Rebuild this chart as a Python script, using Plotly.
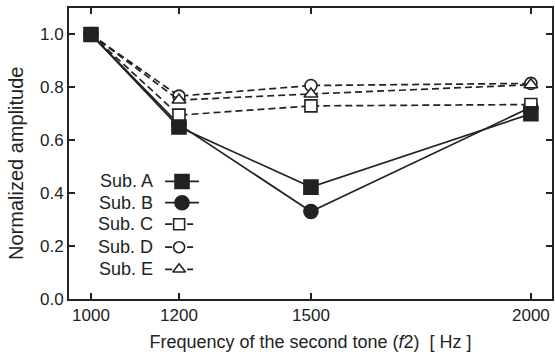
import plotly.graph_objects as go

freq = [1000, 1200, 1500, 2000]
sub_a = [1.0, 0.65, 0.423, 0.70]
sub_b = [1.0, 0.66, 0.331, 0.725]
sub_c = [1.0, 0.695, 0.73, 0.735]
sub_d = [1.0, 0.767, 0.807, 0.815]
sub_e = [1.0, 0.752, 0.775, 0.81]
names = ["Sub. A", "Sub. B", "Sub. C", "Sub. D", "Sub. E"]
x_ticks = [1000, 1200, 1500, 2000]
y_ticks = [0.0, 0.2, 0.4, 0.6, 0.8, 1.0]

series = [sub_a, sub_b, sub_c, sub_d, sub_e]
styles = [
    dict(symbol="square", size=14, fill="#222", dash="solid"),
    dict(symbol="circle", size=14, fill="#222", dash="solid"),
    dict(symbol="square", size=12, fill="white", dash="7px,4px"),
    dict(symbol="circle", size=12, fill="white", dash="7px,4px"),
    dict(symbol="triangle-up", size=12, fill="white", dash="7px,4px"),
]

FONT = "Liberation Sans, Arial, Helvetica, sans-serif"
INK = "#222"

fig = go.Figure()
draw_order = [1, 2, 3, 4, 0]  # Sub. A drawn last (on top at 1000 Hz)
for k in draw_order:
    vals, st, nm = series[k], styles[k], names[k]
    fig.add_trace(go.Scatter(
        x=freq, y=vals, mode="lines+markers", name=nm, showlegend=False,
        line=dict(color=INK, width=1.7, dash=st["dash"]),
        marker=dict(symbol=st["symbol"], size=st["size"], color=st["fill"],
                    line=dict(color=INK, width=1.6)),
    ))

# custom legend (text left, sample right) on an overlay axis in paper units
row_y = [0.404, 0.331, 0.257, 0.178, 0.102]
for i, (st, nm) in enumerate(zip(styles, names)):
    solid = st["dash"] == "solid"
    x0, x1, xm = (0.199, 0.269, 0.234) if solid else (0.199, 0.257, 0.228)
    fig.add_trace(go.Scatter(
        x=[x0, x1], y=[row_y[i], row_y[i]], mode="lines", xaxis="x2", yaxis="y2",
        showlegend=False, hoverinfo="skip",
        line=dict(color=INK, width=1.7, dash=st["dash"])))
    fig.add_trace(go.Scatter(
        x=[xm], y=[row_y[i]], mode="markers", xaxis="x2", yaxis="y2",
        showlegend=False, hoverinfo="skip",
        marker=dict(symbol=st["symbol"], size=st["size"] if solid else 11,
                    color=st["fill"], line=dict(color=INK, width=1.6))))
    fig.add_annotation(x=0.178, y=row_y[i], xref="paper", yref="paper",
                       text=nm, showarrow=False, xanchor="right", yanchor="middle",
                       font=dict(family=FONT, size=18, color=INK))

fig.add_annotation(x=-0.11, y=0.467, xref="paper", yref="paper",
                   text="Normalized amplitude", textangle=-90, showarrow=False,
                   xanchor="center", yanchor="middle",
                   font=dict(family=FONT, size=20, color=INK))

fig.update_layout(
    width=555, height=354,
    margin=dict(l=69, r=3, t=8, b=55),
    paper_bgcolor="white", plot_bgcolor="white",
    font=dict(family=FONT, size=17, color=INK),
    xaxis=dict(range=[950, 2048], tickvals=x_ticks, ticktext=[str(v) for v in x_ticks],
               ticks="inside", ticklen=6, tickwidth=1.5, tickcolor=INK,
               showline=True, linecolor=INK, linewidth=2, mirror="ticks",
               showgrid=False, zeroline=False, automargin=False,
               title=dict(text="Frequency of the second tone (<i>f</i>2)&nbsp;&nbsp;[ Hz ]",
                          standoff=11, font=dict(size=18))),
    yaxis=dict(range=[0, 1.1], tickvals=y_ticks, tickformat=".1f",
               ticks="inside", ticklen=6, tickwidth=1.5, tickcolor=INK,
               showline=True, linecolor=INK, linewidth=2, mirror="ticks",
               showgrid=False, zeroline=False, automargin=False),
    xaxis2=dict(range=[0, 1], overlaying="x", visible=False, fixedrange=True),
    yaxis2=dict(range=[0, 1], overlaying="y", visible=False, fixedrange=True),
)

fig.write_html("out.html", config={"displayModeBar": False},
               post_script="document.body.style.margin='0';")
